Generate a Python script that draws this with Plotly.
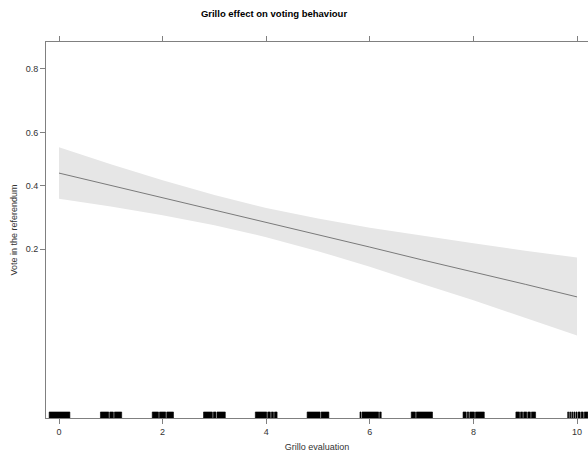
import numpy as np
import plotly.graph_objects as go

# ---- data ----
grillo_eval = [0, 1, 2, 3, 4, 5, 6, 7, 8, 9, 10]
vote_fit = [0.446, 0.400, 0.355, 0.313, 0.274, 0.237, 0.205, 0.175, 0.150, 0.127, 0.107]
vote_upper = [0.545, 0.480, 0.419, 0.365, 0.320, 0.286, 0.258, 0.235, 0.215, 0.196, 0.180]
vote_lower = [0.352, 0.325, 0.296, 0.265, 0.231, 0.195, 0.160, 0.128, 0.102, 0.080, 0.062]

y_tick_values = [0.2, 0.4, 0.6, 0.8]
x_tick_values = [0, 2, 4, 6, 8, 10]

# rug of observed (jittered) Grillo evaluations, as solid stretches [start, end]
rug_start = [-0.19, 0.80, 0.98, 1.07, 1.80, 1.94, 2.08, 2.79, 2.98, 3.05,
             3.79, 4.03, 4.10, 4.16, 4.79, 5.06, 5.81, 5.85, 6.19, 6.80, 6.90,
             7.80, 7.88, 7.93, 8.04, 8.82, 8.91, 8.97, 9.05, 9.12,
             9.82, 9.86, 9.90, 9.94, 9.98, 10.02, 10.08, 10.14]
rug_end = [0.21, 0.96, 1.05, 1.21, 1.92, 2.06, 2.21, 2.96, 3.03, 3.21,
           4.01, 4.08, 4.14, 4.21, 5.04, 5.21, 5.83, 6.17, 6.22, 6.88, 7.21,
           7.86, 7.91, 8.02, 8.21, 8.89, 8.95, 9.03, 9.10, 9.20,
           9.84, 9.88, 9.92, 9.96, 10.00, 10.06, 10.12, 10.21]


def logit(p):
    p = np.asarray(p, dtype=float)
    return np.log(p / (1 - p))


FONT = "Liberation Sans, Arial, sans-serif"
AXIS_COL = "#808080"

fig = go.Figure()

# confidence band
fig.add_trace(go.Scatter(
    x=grillo_eval + grillo_eval[::-1],
    y=list(logit(vote_upper)) + list(logit(vote_lower))[::-1],
    fill="toself", fillcolor="#e6e6e6", line=dict(width=0),
    mode="lines", hoverinfo="skip", showlegend=False))

# fitted line
fig.add_trace(go.Scatter(
    x=grillo_eval, y=logit(vote_fit), mode="lines",
    line=dict(color="#7a7a7a", width=1), showlegend=False))

# rug
rug_h = 0.016
rx, ry = [], []
for a, b in zip(rug_start, rug_end):
    rx += [a, b, b, a, a, None]
    ry += [0, 0, rug_h, rug_h, 0, None]
fig.add_trace(go.Scatter(
    x=rx, y=ry, yaxis="y2", fill="toself", fillcolor="black",
    mode="lines", line=dict(color="black", width=0.6),
    hoverinfo="skip", showlegend=False))

fig.update_layout(
    width=588, height=454,
    margin=dict(l=46, r=0, t=42, b=36),
    paper_bgcolor="white", plot_bgcolor="white",
    font=dict(family=FONT, size=9, color="#333333"),
    title=dict(text="<b>Grillo effect on voting behaviour</b>",
               x=274 / 588, xanchor="center", y=0.969, yanchor="middle",
               font=dict(family=FONT, size=9.5, color="black")),
    xaxis=dict(range=[-0.251, 10.212], tickvals=x_tick_values,
               ticks="outside", ticklen=5, tickcolor=AXIS_COL,
               showline=True, linecolor=AXIS_COL, linewidth=1, mirror="ticks",
               showgrid=False, zeroline=False,
               tickfont=dict(size=9, color="#333333"),
               title=dict(text="Grillo evaluation", standoff=7,
                          font=dict(size=9, color="#333333"))),
    yaxis=dict(range=[-3.985, 1.8], tickvals=logit(y_tick_values),
               ticktext=[f"{v:.1f}" for v in y_tick_values],
               ticks="outside", ticklen=5, tickcolor=AXIS_COL,
               showline=True, linecolor=AXIS_COL, linewidth=1, mirror=False,
               showgrid=False, zeroline=False,
               tickfont=dict(size=9, color="#333333"),
               title=dict(text="Vote in the referendum", standoff=6,
                          font=dict(size=9, color="#333333"))),
    yaxis2=dict(range=[0, 1], overlaying="y", visible=False, fixedrange=True),
)

fig.write_html(
    "out.html",
    config={"displayModeBar": False},
    post_script="document.body.style.margin='0';document.body.style.overflow='hidden';",
)
